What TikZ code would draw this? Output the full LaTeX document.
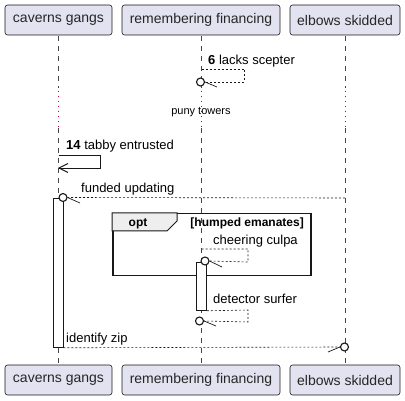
\documentclass[tikz,border=0pt]{standalone}
\usepackage{fontspec}
\setmainfont{Liberation Sans}
\definecolor{partfill}{HTML}{E2E2F0}
\definecolor{lineclr}{HTML}{181818}
\definecolor{delayclr}{HTML}{C0004A}
\definecolor{tabfill}{HTML}{EEEEEE}
\begin{document}
\begin{tikzpicture}[x=1pt,y=-1pt,
  part/.style={draw=lineclr,fill=partfill,rounded corners=2.5pt,line width=0.6pt,minimum height=30pt,inner sep=0pt,font=\fontsize{14}{16}\selectfont,text=black!85},
  life/.style={draw=lineclr!80,line width=0.6pt,dash pattern=on 5pt off 5pt},
  delay/.style={draw=delayclr,line width=1pt,dash pattern=on 1pt off 4pt},
  msg/.style={draw=lineclr,line width=0.6pt,dash pattern=on 2pt off 2pt},
  solidmsg/.style={draw=lineclr,line width=0.8pt},
  lbl/.style={font=\fontsize{13}{15}\selectfont,inner sep=0pt,anchor=base west},
  act/.style={draw=lineclr,fill=white,line width=0.8pt},
  circ/.style={draw=lineclr,line width=1.1pt,fill=white},
  slash/.style={draw=lineclr,line width=0.7pt}
]
\useasboundingbox (0,0) rectangle (405,401);
% lifelines
\foreach \x in {58.5,201.5,345}{
  \draw[life] (\x,36) -- (\x,88);
  \draw[delay] (\x,91) -- (\x,127);
  \draw[life] (\x,128) -- (\x,365);
}
% participants
\node[part,minimum width=107pt] (a1) at (58.5,20) {caverns gangs};
\node[part,minimum width=158pt] (b1) at (201,20) {remembering financing};
\node[part,minimum width=110pt] (c1) at (345,20) {elbows skidded};
\node[part,minimum width=107pt] (a2) at (58.5,380) {caverns gangs};
\node[part,minimum width=158pt] (b2) at (201,380) {remembering financing};
\node[part,minimum width=110pt] (c2) at (345,380) {elbows skidded};

% 6 lacks scepter
\node[lbl] (t6) at (208,65) {\textbf{6} lacks scepter};
\coordinate (s6a) at (201.5,69);
\coordinate (s6b) at (244,69);
\coordinate (s6c) at (244,82);
\node[circ,circle,minimum size=8pt,inner sep=0pt] (o6) at (200.5,82) {};
\draw[msg] (s6a) -- (s6b) -- (s6c) -- (o6.east);
\coordinate (k6) at (217,87);
\draw[slash] (o6.east) -- (k6);

% delay text
\node[font=\fontsize{11}{13}\selectfont,inner sep=0pt] (dly) at (201,112) {puny towers};

% 14 tabby entrusted
\node[lbl] (t14) at (66,150) {\textbf{14} tabby entrusted};
\coordinate (s14a) at (58.5,155);
\coordinate (s14b) at (100,155);
\coordinate (s14c) at (100,168);
\coordinate (s14d) at (59,168);
\draw[solidmsg] (s14a) -- (s14b) -- (s14c) -- (s14d);
\draw[solidmsg,line width=1pt] (68,163.5) -- (s14d) -- (68,172.5);

% activation caverns
\node[act,draw,minimum width=10pt,minimum height=149pt,inner sep=0pt,anchor=north] (actA) at (58,198) {};

% funded updating
\node[lbl] (tf) at (81,193) {funded updating};
\node[circ,circle,minimum size=8pt,inner sep=0pt] (of) at (63,197.5) {};
\coordinate (ef) at (345,198);
\draw[msg] (ef) -- (of.east);
\draw[slash] (of.east) -- (80,203);

% opt frame
\node[draw=lineclr,line width=1.5pt,minimum width=198pt,minimum height=62pt,anchor=north west,inner sep=0pt] (opt) at (112,213) {};
\draw[fill=tabfill,draw=lineclr,line width=1pt] (112,213) -- (177,213) -- (177,221) -- (167,231) -- (112,231) -- cycle;
\node[font=\bfseries\fontsize{12}{14}\selectfont,inner sep=0pt,anchor=base] (optl) at (138,227) {opt};
\node[font=\bfseries\fontsize{12}{14}\selectfont,inner sep=0pt,anchor=base east] (guard) at (304,227) {[humped emanates]};

% cheering culpa
\node[lbl] (tc) at (213,245) {cheering culpa};
\coordinate (sca) at (201.5,249);
\coordinate (scb) at (248,249);
\coordinate (scc) at (248,262);
% activation remembering
\node[act,minimum width=10pt,minimum height=48pt,inner sep=0pt,anchor=north] (actB) at (201.5,262) {};
\node[circ,circle,minimum size=8pt,inner sep=0pt] (oc) at (205,261) {};
\draw[msg] (sca) -- (scb) -- (scc) -- (oc.east);
\draw[slash] (oc.east) -- (222,267);

% detector surfer
\node[lbl] (td) at (213,304) {detector surfer};
\coordinate (sdb) at (248,310);
\coordinate (sdc) at (248,322);
\node[circ,circle,minimum size=8pt,inner sep=0pt] (od) at (199.5,321) {};
\draw[msg] (actB.south east) -- (sdb) -- (sdc) -- (od.east);
\draw[slash] (od.east) -- (216,326);

% identify zip
\node[lbl] (ti) at (66,343) {identify zip};
\node[circ,circle,minimum size=8pt,inner sep=0pt] (oi) at (344.5,347) {};
\draw[msg] (actA.south east) -- (oi.west);
\draw[slash] (oi.west) -- (328,352);
\end{tikzpicture}
\end{document}
